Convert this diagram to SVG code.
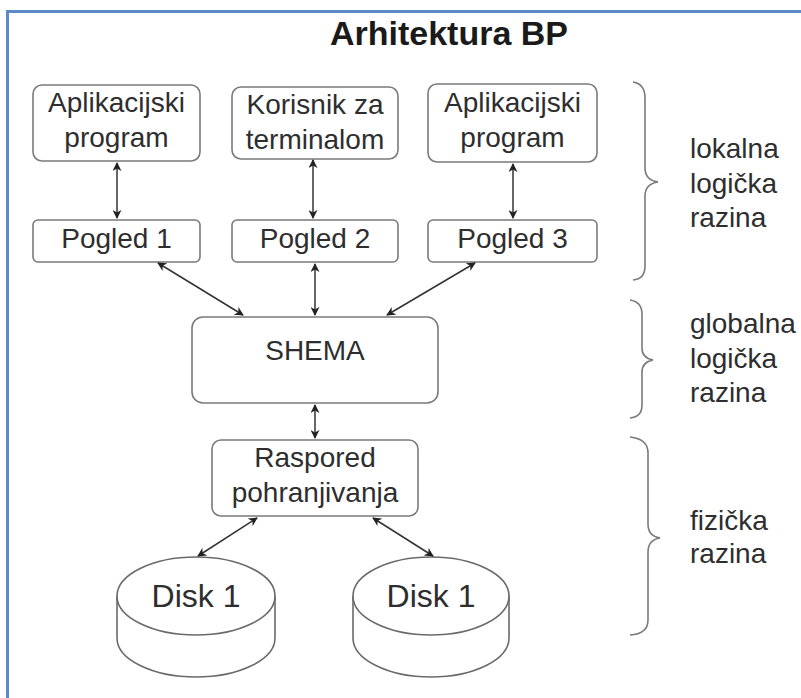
<svg xmlns="http://www.w3.org/2000/svg" width="801" height="698" viewBox="0 0 801 698">
<style>
  .box { fill: #ffffff; stroke: #7a7a7a; stroke-width: 1.6; }
  .t { font-family: "Liberation Sans", Arial, sans-serif; font-size: 28px; fill: #2e2e2e; text-anchor: middle; }
  .lbl { font-family: "Liberation Sans", Arial, sans-serif; font-size: 28px; fill: #2e2e2e; }
  .title { font-family: "Liberation Sans", Arial, sans-serif; font-size: 34px; font-weight: bold; fill: #1a1a1a; text-anchor: middle; }
  .conn { stroke: #333333; stroke-width: 1.5; fill: none; marker-start: url(#ah); marker-end: url(#ah); }
  .brace { stroke: #7a7a7a; stroke-width: 1.6; fill: none; }
  .disk { fill: #ffffff; stroke: #6a6a6a; stroke-width: 1.6; }
</style>
<defs>
  <marker id="ah" viewBox="0 0 10 10" refX="9" refY="5" markerWidth="9" markerHeight="9" markerUnits="userSpaceOnUse" orient="auto-start-reverse">
    <path d="M0,0 L10,5 L0,10 L3,5 Z" fill="#222222"/>
  </marker>
</defs>
<rect x="0" y="0" width="801" height="698" fill="#ffffff"/>
<path d="M7.5,698 L7.5,11.5 L801,11.5" fill="none" stroke="#5b8ac8" stroke-width="3"/>
<text class="title" x="449" y="45">Arhitektura BP</text>

<g id="app1">
  <rect class="box" x="33" y="85" width="167" height="76" rx="9"/>
  <text class="t" x="116.5" y="112">Aplikacijski</text>
  <text class="t" x="116.5" y="147">program</text>
</g>
<g id="korisnik">
  <rect class="box" x="232" y="87" width="166" height="72" rx="9"/>
  <text class="t" x="315" y="114">Korisnik za</text>
  <text class="t" x="315" y="149">terminalom</text>
</g>
<g id="app3">
  <rect class="box" x="428" y="84" width="169" height="78" rx="9"/>
  <text class="t" x="512.5" y="112">Aplikacijski</text>
  <text class="t" x="512.5" y="147">program</text>
</g>
<g id="pogled1">
  <rect class="box" x="33" y="220" width="167" height="42" rx="5"/>
  <text class="t" x="116.5" y="248">Pogled 1</text>
</g>
<g id="pogled2">
  <rect class="box" x="232" y="220" width="166" height="42" rx="5"/>
  <text class="t" x="315" y="248">Pogled 2</text>
</g>
<g id="pogled3">
  <rect class="box" x="428" y="220" width="169" height="42" rx="5"/>
  <text class="t" x="512.5" y="248">Pogled 3</text>
</g>
<g id="shema">
  <rect class="box" x="192" y="317" width="246" height="86" rx="11"/>
  <text class="t" x="315" y="360">SHEMA</text>
</g>
<g id="raspored">
  <rect class="box" x="212" y="440" width="206" height="76" rx="9"/>
  <text class="t" x="315" y="467">Raspored</text>
  <text class="t" x="315" y="502">pohranjivanja</text>
</g>
<g id="disk1">
  <path class="disk" d="M117,596 L117,638 A79,39 0 0 0 275,638 L275,596"/>
  <ellipse class="disk" cx="196" cy="596" rx="79" ry="39"/>
  <text class="t" x="196" y="607" style="font-size:32px">Disk 1</text>
</g>
<g id="disk2">
  <path class="disk" d="M353,596 L353,638 A78,39 0 0 0 509,638 L509,596"/>
  <ellipse class="disk" cx="431" cy="596" rx="78" ry="39"/>
  <text class="t" x="431" y="607" style="font-size:32px">Disk 1</text>
</g>

<g id="connectors">
  <line class="conn" x1="117" y1="163" x2="117" y2="218"/>
  <line class="conn" x1="313" y1="160" x2="313" y2="218"/>
  <line class="conn" x1="513" y1="164" x2="513" y2="218"/>
  <line class="conn" x1="158" y1="263" x2="243" y2="315"/>
  <line class="conn" x1="315" y1="264" x2="315" y2="315"/>
  <line class="conn" x1="475" y1="263" x2="387" y2="315"/>
  <line class="conn" x1="315" y1="405" x2="315" y2="438"/>
  <line class="conn" x1="257" y1="518" x2="198" y2="556"/>
  <line class="conn" x1="373" y1="518" x2="433" y2="556"/>
</g>

<g id="brace-lokalna">
  <path class="brace" d="M633,82 Q645,84 645,98 L645,168 Q645,180 658,182 Q645,184 645,196 L645,266 Q645,279 633,280"/>
  <text class="lbl" x="690" y="158">lokalna</text>
  <text class="lbl" x="690" y="193">logička</text>
  <text class="lbl" x="690" y="227">razina</text>
</g>
<g id="brace-globalna">
  <path class="brace" d="M630,300 Q642,302 642,314 L642,348 Q642,358 653,360 Q642,362 642,372 L642,405 Q642,417 630,418"/>
  <text class="lbl" x="690" y="333">globalna</text>
  <text class="lbl" x="690" y="368">logička</text>
  <text class="lbl" x="690" y="402">razina</text>
</g>
<g id="brace-fizicka">
  <path class="brace" d="M630,437 Q648,439 648,453 L648,524 Q648,536 660,538 Q648,540 648,552 L648,620 Q648,634 630,635"/>
  <text class="lbl" x="690" y="530">fizička</text>
  <text class="lbl" x="690" y="563">razina</text>
</g>
</svg>
